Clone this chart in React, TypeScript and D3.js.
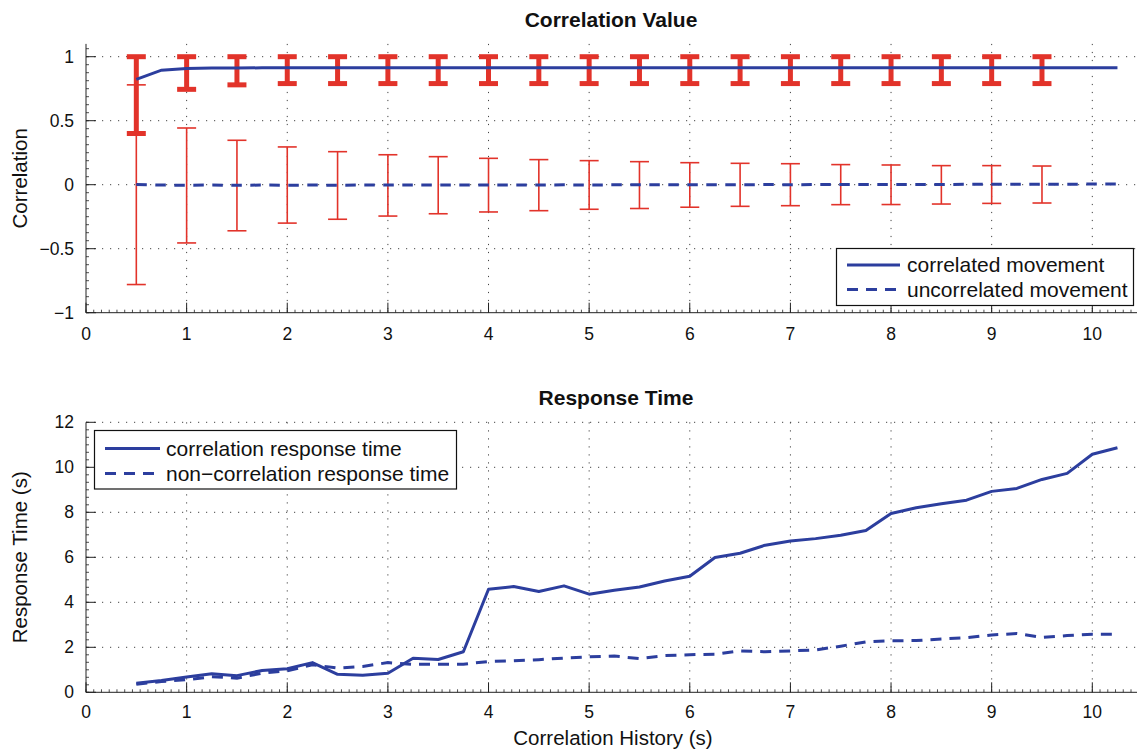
import React from "react";
import * as d3 from "d3";

// ---------- DATA ----------
const X_LINE = [0.5, 0.75, 1, 1.25, 1.5, 1.75, 2, 2.25, 2.5, 2.75, 3, 3.25, 3.5, 3.75, 4, 4.25, 4.5, 4.75, 5, 5.25, 5.5, 5.75, 6, 6.25, 6.5, 6.75, 7, 7.25, 7.5, 7.75, 8, 8.25, 8.5, 8.75, 9, 9.25, 9.5, 9.75, 10, 10.25];

const CORRELATED = [0.823, 0.895, 0.907, 0.911, 0.912, 0.913, 0.913, 0.913, 0.914, 0.914, 0.914, 0.914, 0.914, 0.914, 0.914, 0.914, 0.914, 0.914, 0.914, 0.914, 0.914, 0.914, 0.914, 0.914, 0.914, 0.914, 0.914, 0.914, 0.914, 0.914, 0.914, 0.914, 0.914, 0.914, 0.914, 0.914, 0.914, 0.914, 0.914, 0.914];
const UNCORRELATED = [0.002, -0.003, -0.004, -0.003, -0.004, -0.003, -0.004, -0.003, -0.004, -0.003, -0.003, -0.002, -0.003, -0.002, -0.003, -0.002, -0.002, -0.001, -0.002, -0.001, -0.001, 0.0, -0.001, 0.0, 0.0, 0.001, 0.0, 0.001, 0.001, 0.002, 0.001, 0.002, 0.002, 0.003, 0.003, 0.003, 0.004, 0.004, 0.005, 0.005];

const ERR_X = [0.5, 1, 1.5, 2, 2.5, 3, 3.5, 4, 4.5, 5, 5.5, 6, 6.5, 7, 7.5, 8, 8.5, 9, 9.5];
const CORR_LO = [0.40, 0.745, 0.78, 0.79, 0.79, 0.79, 0.79, 0.79, 0.79, 0.79, 0.79, 0.79, 0.79, 0.79, 0.79, 0.79, 0.79, 0.79, 0.79];
const CORR_HI = [1.0, 1.0, 1.0, 1.0, 1.0, 1.0, 1.0, 1.0, 1.0, 1.0, 1.0, 1.0, 1.0, 1.0, 1.0, 1.0, 1.0, 1.0, 1.0];
const UNC_LO = [-0.78, -0.455, -0.36, -0.30, -0.27, -0.245, -0.227, -0.213, -0.203, -0.192, -0.186, -0.176, -0.169, -0.164, -0.156, -0.155, -0.151, -0.146, -0.143];
const UNC_HI = [0.78, 0.443, 0.347, 0.295, 0.258, 0.234, 0.219, 0.206, 0.196, 0.188, 0.18, 0.172, 0.167, 0.164, 0.157, 0.154, 0.149, 0.149, 0.146];

const RESP_CORR = [0.40, 0.52, 0.68, 0.82, 0.74, 0.97, 1.05, 1.32, 0.80, 0.76, 0.85, 1.51, 1.46, 1.80, 4.58, 4.70, 4.48, 4.73, 4.36, 4.54, 4.68, 4.95, 5.16, 5.99, 6.18, 6.54, 6.72, 6.83, 6.98, 7.19, 7.95, 8.20, 8.38, 8.54, 8.93, 9.06, 9.46, 9.73, 10.58, 10.87];
const RESP_NONCORR = [0.36, 0.48, 0.56, 0.69, 0.63, 0.85, 0.96, 1.22, 1.08, 1.15, 1.32, 1.24, 1.25, 1.25, 1.37, 1.40, 1.45, 1.52, 1.58, 1.61, 1.50, 1.63, 1.67, 1.69, 1.84, 1.80, 1.84, 1.88, 2.05, 2.24, 2.29, 2.30, 2.37, 2.43, 2.55, 2.61, 2.44, 2.52, 2.58, 2.58];

const X_TICKS = [0, 1, 2, 3, 4, 5, 6, 7, 8, 9, 10];
const Y_TICKS_TOP = [-1, -0.5, 0, 0.5, 1];
const Y_TICKS_BOTTOM = [0, 2, 4, 6, 8, 10, 12];

const TOP_TITLE = "Correlation Value";
const BOTTOM_TITLE = "Response Time";
const TOP_YLABEL = "Correlation";
const BOTTOM_YLABEL = "Response Time (s)";
const XLABEL = "Correlation History (s)";
const TOP_LEGEND = ["correlated movement", "uncorrelated movement"];
const BOTTOM_LEGEND = ["correlation response time", "non\u2212correlation response time"];

// ---------- STYLE ----------
const W = 1137;
const H = 751;
const FONT = "'Liberation Sans', Arial, Helvetica, sans-serif";
const BLUE = "#2c3e9e";
const RED = "#e2332a";
const AXIS = "#222";
const GRID = "#444";

const fmt = (v: number) => String(v).replace("-", "\u2212");

export default function App() {
  const x = d3.scaleLinear().domain([0, 10]).range([86, 1092.3]);
  const xRight = W;
  const yT = d3.scaleLinear().domain([-1, 1]).range([312.7, 56.7]);
  const yTopEdge = yT(1.1);
  const yB = d3.scaleLinear().domain([0, 12]).range([692.3, 422.3]);
  const yBTopEdge = yB(12);

  const lineT = (vals: number[]) =>
    d3.line<number>().x((_, i) => x(X_LINE[i])).y((v) => yT(v))(vals) || "";
  const lineB = (vals: number[]) =>
    d3.line<number>().x((_, i) => x(X_LINE[i])).y((v) => yB(v))(vals) || "";

  const xMinor = d3.range(0, 10.6, 1 / 13);
  const yTMinor = d3.range(-1, 1.11, 0.0625);
  const yBMinor = d3.range(0, 12.01, 1 / 3);

  const axisLeft = (
    y: d3.ScaleLinear<number, number>,
    ticks: number[],
    minor: number[],
    top: number
  ) => (
    <g>
      <line x1={86} x2={86} y1={top} y2={y.range()[0]} stroke={AXIS} strokeWidth={1} />
      {minor.map((v, i) => (
        <line key={"m" + i} x1={86} x2={89} y1={y(v)} y2={y(v)} stroke={AXIS} strokeWidth={0.8} />
      ))}
      {ticks.map((v) => (
        <g key={v}>
          <line x1={86} x2={96} y1={y(v)} y2={y(v)} stroke={AXIS} strokeWidth={1} />
          <text x={74} y={y(v)} dy="0.35em" textAnchor="end" fontSize={17.5} fontFamily={FONT} fill="#111">
            {fmt(v)}
          </text>
        </g>
      ))}
    </g>
  );

  const axisBottom = (yAxis: number, labelY: number) => (
    <g>
      <line x1={86} x2={xRight} y1={yAxis} y2={yAxis} stroke={AXIS} strokeWidth={1} />
      {xMinor.map((v, i) => (
        <line key={"m" + i} x1={x(v)} x2={x(v)} y1={yAxis} y2={yAxis - 3} stroke={AXIS} strokeWidth={0.8} />
      ))}
      {X_TICKS.map((v) => (
        <g key={v}>
          <line x1={x(v)} x2={x(v)} y1={yAxis} y2={yAxis - 10} stroke={AXIS} strokeWidth={1} />
          <text x={x(v)} y={labelY} textAnchor="middle" fontSize={17.5} fontFamily={FONT} fill="#111">
            {v}
          </text>
        </g>
      ))}
    </g>
  );

  const grid = (
    y: d3.ScaleLinear<number, number>,
    yTicks: number[],
    top: number,
    bottom: number
  ) => (
    <g>
      {yTicks.filter((v) => y(v) < bottom - 1).map((v) => (
        <line key={"h" + v} x1={86} x2={xRight} y1={y(v)} y2={y(v)} stroke={GRID} strokeWidth={1} strokeDasharray="1.2,6.8" />
      ))}
      {X_TICKS.filter((v) => v > 0).map((v) => (
        <line key={"v" + v} x1={x(v)} x2={x(v)} y1={top} y2={bottom} stroke={GRID} strokeWidth={1} strokeDasharray="1.2,6.8" />
      ))}
    </g>
  );

  const errBar = (xi: number, lo: number, hi: number, thick: boolean, key: string) => {
    const cx = x(xi);
    const sw = thick ? 5 : 1.6;
    const cap = 9.5;
    return (
      <g key={key} stroke={RED} strokeWidth={sw}>
        <line x1={cx} x2={cx} y1={yT(lo)} y2={yT(hi)} />
        <line x1={cx - cap} x2={cx + cap} y1={yT(lo)} y2={yT(lo)} />
        <line x1={cx - cap} x2={cx + cap} y1={yT(hi)} y2={yT(hi)} />
      </g>
    );
  };

  const legend = (
    bx: number,
    by: number,
    bw: number,
    bh: number,
    labels: string[],
    rowY: number[],
    lx1: number,
    lx2: number,
    tx: number
  ) => (
    <g>
      <rect x={bx} y={by} width={bw} height={bh} fill="#fff" stroke="#111" strokeWidth={1.2} />
      <line x1={lx1} x2={lx2} y1={rowY[0]} y2={rowY[0]} stroke={BLUE} strokeWidth={3} />
      <line x1={lx1} x2={lx2} y1={rowY[1]} y2={rowY[1]} stroke={BLUE} strokeWidth={3} strokeDasharray="11,8" />
      {labels.map((t, i) => (
        <text key={t} x={tx} y={rowY[i]} dy="0.35em" fontSize={21} fontFamily={FONT} fill="#111">
          {t}
        </text>
      ))}
    </g>
  );

  return (
    <div style={{ position: "absolute", left: 0, top: 0 }}>
      <svg width={W} height={H} style={{ display: "block", background: "#fff" }}>
        {/* ---------- TOP PLOT ---------- */}
        {grid(yT, Y_TICKS_TOP, yTopEdge, yT(-1))}
        {axisLeft(yT, Y_TICKS_TOP, yTMinor, yTopEdge)}
        {axisBottom(yT(-1), 340)}
        {ERR_X.map((xi, i) => errBar(xi, CORR_LO[i], CORR_HI[i], true, "c" + i))}
        {ERR_X.map((xi, i) => errBar(xi, UNC_LO[i], UNC_HI[i], false, "u" + i))}
        <path d={lineT(CORRELATED)} fill="none" stroke={BLUE} strokeWidth={3} />
        <path d={lineT(UNCORRELATED)} fill="none" stroke={BLUE} strokeWidth={3} strokeDasharray="10.5,8.5" />
        {legend(836.5, 248.5, 297, 57, TOP_LEGEND, [265, 289.5], 847, 900, 907)}
        <text x={611} y={27} textAnchor="middle" fontSize={21} fontWeight="bold" fontFamily={FONT} fill="#111">
          {TOP_TITLE}
        </text>
        <text transform={`translate(27,${(yTopEdge + yT(-1)) / 2}) rotate(-90)`} textAnchor="middle" fontSize={20.5} fontFamily={FONT} fill="#111">
          {TOP_YLABEL}
        </text>

        {/* ---------- BOTTOM PLOT ---------- */}
        {grid(yB, Y_TICKS_BOTTOM, yBTopEdge, yB(0))}
        {axisLeft(yB, Y_TICKS_BOTTOM, yBMinor, yBTopEdge)}
        {axisBottom(yB(0), 718)}
        <path d={lineB(RESP_CORR)} fill="none" stroke={BLUE} strokeWidth={3} strokeLinejoin="round" />
        <path d={lineB(RESP_NONCORR)} fill="none" stroke={BLUE} strokeWidth={3} strokeDasharray="11,8" />
        {legend(94.5, 430.5, 362, 58.5, BOTTOM_LEGEND, [448.5, 473.5], 105, 160, 166)}
        <text x={616} y={405} textAnchor="middle" fontSize={21} fontWeight="bold" fontFamily={FONT} fill="#111">
          {BOTTOM_TITLE}
        </text>
        <text transform={`translate(27,${(yBTopEdge + yB(0)) / 2}) rotate(-90)`} textAnchor="middle" fontSize={20.5} fontFamily={FONT} fill="#111">
          {BOTTOM_YLABEL}
        </text>
        <text x={613} y={745} textAnchor="middle" fontSize={20.5} fontFamily={FONT} fill="#111">
          {XLABEL}
        </text>
      </svg>
    </div>
  );
}
